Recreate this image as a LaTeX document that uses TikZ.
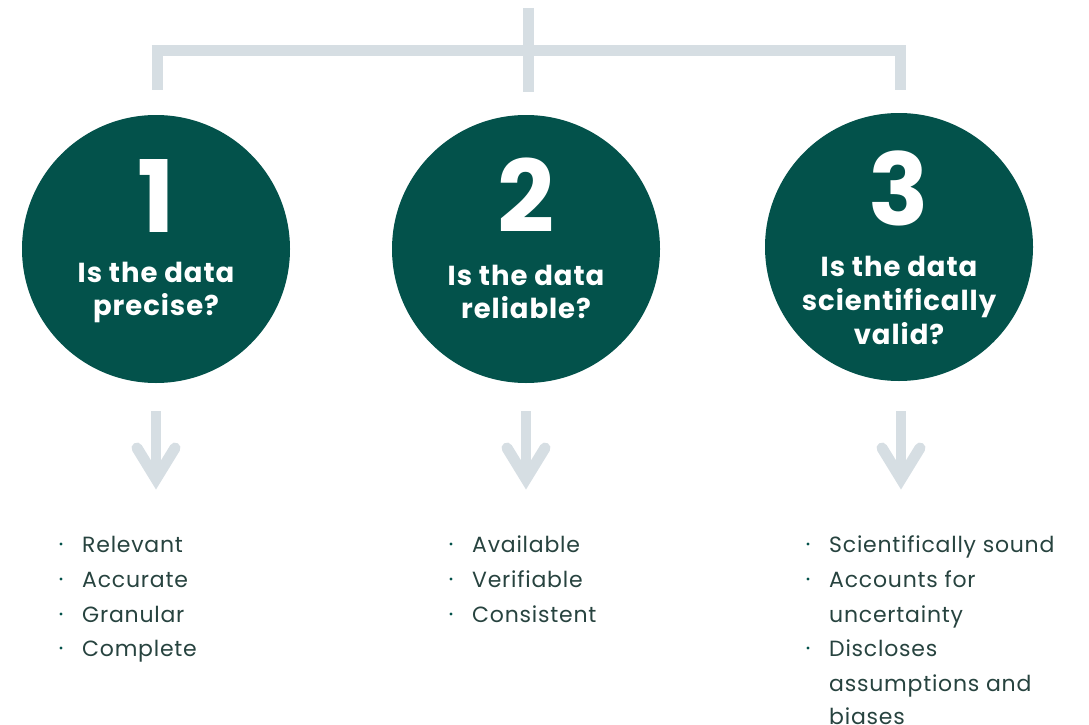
\documentclass[tikz,border=0pt]{standalone}
\usepackage{fontspec}
\setmainfont{Poppins}[LetterSpace=3.5]
\begin{document}
\definecolor{teal}{HTML}{03524B}
\definecolor{bracket}{HTML}{D6DEE3}
\definecolor{listtext}{HTML}{27433F}
\begin{tikzpicture}[x=1pt,y=-1pt,
  disc/.style={circle,fill=teal,minimum size=268pt,inner sep=0pt},
  numtext/.style={text=white,font=\fontsize{100}{100}\selectfont\bfseries,anchor=base,inner sep=0pt},
  qtext/.style={text=white,font=\fontsize{27.5}{32}\selectfont\bfseries,anchor=base,inner sep=0pt},
  item/.style={text=listtext,font=\fontsize{22}{24}\selectfont,anchor=base west,inner sep=0pt},
  dot/.style={circle,fill=teal,inner sep=0pt,minimum size=3.4pt},
  bar/.style={draw=bracket,line width=11pt},
  arrowline/.style={draw=bracket,line width=11pt,line join=miter}]
\useasboundingbox (0,0) rectangle (1089,725);

% top bracket
\coordinate (top) at (528,8);
\coordinate (hub) at (528,51);
\coordinate (l) at (157,51);
\coordinate (r) at (900,51);
\coordinate (lend) at (157,90);
\coordinate (mend) at (528,92);
\coordinate (rend) at (900,90);
\draw[bar] (top) -- (mend);
\draw[bar] ([xshift=-5.5pt]l) -- ([xshift=5.5pt]r);
\draw[bar] ([yshift=-5.5pt]l) -- (lend);
\draw[bar] ([yshift=-5.5pt]r) -- (rend);

% circles
\node[disc] (c1) at (156,249) {};
\node[disc] (c2) at (526,249) {};
\node[disc] (c3) at (899,247) {};

\node[numtext] (n1) at (156,232) {1};
\node[numtext] (n2) at (526,232) {2};
\node[numtext] (n3) at (899,225) {3};

\node[qtext] (q1a) at (156,282) {Is the data};
\node[qtext] (q1b) at (156,315) {precise?};
\node[qtext] (q2a) at (526,285) {Is the data};
\node[qtext] (q2b) at (526,318) {reliable?};
\node[qtext] (q3a) at (899,276) {Is the data};
\node[qtext] (q3b) at (899,310) {scientifically};
\node[qtext] (q3c) at (899,344) {valid?};

% down arrows
\foreach \i/\x in {1/156,2/526,3/901}{
  \coordinate (s\i) at (\x,411);
  \coordinate (t\i) at (\x,476);
  \draw[bracket,line width=10pt] (s\i) -- (t\i);
  \draw[arrowline,line cap=round] (\x-19,448) -- (\x,479) -- (\x+19,448);
}

% lists
\foreach \y/\t [count=\k] in {552/Relevant,587/Accurate,622/Granular,656/Complete}{
  \node[dot] (d1\k) at (61,\y-8) {};
  \node[item] (i1\k) at (82,\y) {\t};
}
\foreach \y/\t [count=\k] in {552/Available,587/Verifiable,622/Consistent}{
  \node[dot] (d2\k) at (451,\y-8) {};
  \node[item] (i2\k) at (472,\y) {\t};
}
\node[dot] (d31) at (808,544) {};
\node[item] (i31) at (829,552) {Scientifically sound};
\node[dot] (d32) at (808,579) {};
\node[item] (i32) at (829,587) {Accounts for};
\node[item] (i33) at (829,622) {uncertainty};
\node[dot] (d34) at (808,648) {};
\node[item] (i34) at (829,656) {Discloses};
\node[item] (i35) at (829,691) {assumptions and};
\node[item] (i36) at (829,724) {biases};
\end{tikzpicture}
\end{document}
